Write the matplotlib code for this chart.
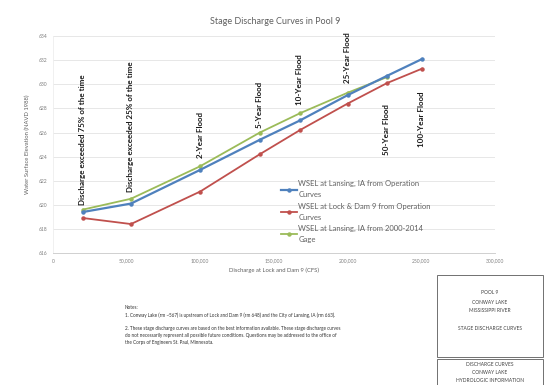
import matplotlib
matplotlib.use("Agg")
import matplotlib.pyplot as plt
from matplotlib.patches import Rectangle

plt.rcParams['font.family'] = ['Lato', 'DejaVu Sans']

# Data
discharge = [20400, 53000, 100000, 140500, 167700, 200000, 226700, 250500]
wsel_lansing_op = [619.4, 620.1, 622.9, 625.4, 627.0, 629.1, 630.7, 632.1]
wsel_ld9_op = [618.9, 618.4, 621.1, 624.2, 626.2, 628.4, 630.1, 631.3]
wsel_lansing_gage = [619.6, 620.5, 623.2, 626.0, 627.6, 629.3, 630.6]

series_labels = ["WSEL at Lansing, IA from Operation\nCurves",
                 "WSEL at Lock & Dam 9 from Operation\nCurves",
                 "WSEL at Lansing, IA from 2000-2014\nGage"]

event_labels = ["Discharge exceeded 75% of the time",
                "Discharge exceeded 25% of the time",
                "2-Year Flood", "5-Year Flood", "10-Year Flood",
                "25-Year Flood", "50-Year Flood", "100-Year Flood"]
event_text_y = [620.0, 621.1, 623.9, 626.4, 628.3, 630.1, 624.1, 624.8]

x_ticks = [0, 50000, 100000, 150000, 200000, 250000, 300000]
x_tick_labels = ["0", "50,000", "100,000", "150,000", "200,000", "250,000", "300,000"]
y_ticks = [616, 618, 620, 622, 624, 626, 628, 630, 632, 634]

colors = ["#4F81BD", "#C0504D", "#9BBB59"]

fig = plt.figure(figsize=(5.45, 3.85), dpi=100)
ax = fig.add_axes([0.097, 0.343, 0.811, 0.563])

ax.plot(discharge, wsel_lansing_op, color=colors[0], lw=1.6, marker='o', ms=2.2,
        label=series_labels[0], zorder=3)
ax.plot(discharge, wsel_ld9_op, color=colors[1], lw=1.3, marker='o', ms=2.2,
        label=series_labels[1], zorder=3)
ax.plot(discharge[:len(wsel_lansing_gage)], wsel_lansing_gage, color=colors[2], lw=1.3,
        marker='o', ms=2.2, label=series_labels[2], zorder=2)

for xv, txt, ty in zip(discharge, event_labels, event_text_y):
    ax.text(xv, ty, txt, rotation=90, ha='center', va='bottom', fontsize=5.8,
            color='#1a1a1a', fontweight='bold')

ax.set_xlim(0, 300000)
ax.set_ylim(616, 634)
ax.set_xticks(x_ticks)
ax.set_xticklabels(x_tick_labels)
ax.set_yticks(y_ticks)
ax.tick_params(labelsize=3.6, colors='#7f7f7f', length=0, pad=4)
ax.grid(axis='y', color='#e3e3e3', lw=0.6)
ax.set_axisbelow(True)
for s in ['top', 'right']:
    ax.spines[s].set_visible(False)
ax.spines['left'].set_color('#eeeeee')
ax.spines['left'].set_linewidth(0.6)
ax.spines['bottom'].set_color('#d0d0d0')
ax.spines['bottom'].set_linewidth(0.7)

ax.set_xlabel("Discharge at Lock and Dam 9 (CFS)", fontsize=4.2, color='#606060', labelpad=3)
ax.set_ylabel("Water Surface Elevation (NAVD 1988)", fontsize=4.2, color='#606060', labelpad=6)
fig.text(0.505, 0.945, "Stage Discharge Curves in Pool 9", ha='center', va='center',
         fontsize=6.5, color='#606060')

leg = ax.legend(loc='upper left', bbox_to_anchor=(0.51, 0.35), frameon=False,
                fontsize=5.5, handlelength=2.0, handletextpad=0.2, labelspacing=0.55,
                borderaxespad=0)
for t in leg.get_texts():
    t.set_color('#606060')
    t.set_linespacing(1.7)

notes = ("Notes:\n"
         "1. Conway Lake (rm ~567) is upstream of Lock and Dam 9 (rm 648) and the City of Lansing, IA (rm 663).\n\n"
         "2. These stage discharge curves are based on the best information available. These stage discharge curves\n"
         "do not necessarily represent all possible future conditions. Questions may be addressed to the office of\n"
         "the Corps of Engineers St. Paul, Minnesota.")
fig.text(125 / 545, 1 - 305 / 385, notes, ha='left', va='top', fontsize=3.3,
         color='#303030', linespacing=1.45)

# Title block boxes
box1 = Rectangle((437 / 545, 1 - 357 / 385), (543 - 437) / 545, (357 - 275) / 385,
                 transform=fig.transFigure, fill=False, ec='#707070', lw=0.7)
box2 = Rectangle((437 / 545, 0.0), (543 - 437) / 545, (385 - 359) / 385,
                 transform=fig.transFigure, fill=False, ec='#707070', lw=0.7)
fig.add_artist(box1)
fig.add_artist(box2)

bx = 490 / 545
for yy, tt in [(293, "POOL 9"), (302, "CONWAY LAKE"), (311, "MISSISSIPPI RIVER"),
               (329, "STAGE DISCHARGE CURVES")]:
    fig.text(bx, 1 - yy / 385, tt, ha='center', va='center', fontsize=3.5, color='#404040')
for yy, tt in [(364, "DISCHARGE CURVES"), (372, "CONWAY LAKE"), (380, "HYDROLOGIC INFORMATION")]:
    fig.text(bx, 1 - yy / 385, tt, ha='center', va='center', fontsize=3.5, color='#404040')

fig.savefig("out.png", dpi=100)
